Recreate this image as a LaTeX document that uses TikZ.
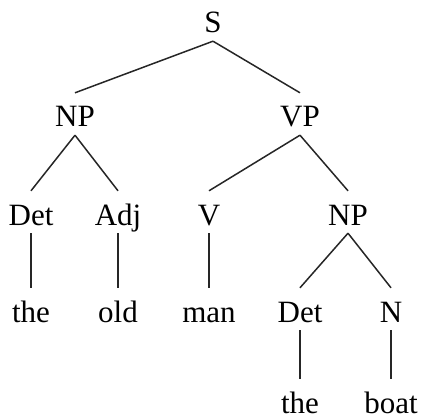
\documentclass[tikz,border=0pt]{standalone}
\usepackage{fontspec}
\setmainfont{Liberation Serif}
\begin{document}
\begin{tikzpicture}[x=1pt,y=-1pt,
	cat/.style={anchor=base,inner sep=0pt,text height=34pt,text depth=8pt,font=\fontsize{31}{36}\selectfont},
	leaf/.style={cat,text depth=0pt},
	branch/.style={line width=1.5pt,color=black!85}]
	\useasboundingbox (0,0) rectangle (421,420);
	\node[cat] (s) at (213,33) {S};
	\node[cat] (np) at (75,127) {NP};
	\node[cat] (vp) at (300,127) {VP};
	\node[cat] (det) at (31,225) {Det};
	\node[cat] (adj) at (118,225) {Adj};
	\node[cat] (v) at (209,225) {V};
	\node[cat] (npb) at (348,225) {NP};
	\node[cat] (the) at (31,322) {the};
	\node[cat] (old) at (118,322) {old};
	\node[cat] (man) at (209,322) {man};
	\node[cat] (detb) at (300,322) {Det};
	\node[cat] (n) at (391,322) {N};
	\node[leaf] (theb) at (300,413) {the};
	\node[leaf] (boat) at (391,413) {boat};
	\draw[branch] (s.south) -- (np.north);
	\draw[branch] (s.south) -- (vp.north);
	\draw[branch] (np.south) -- (det.north);
	\draw[branch] (np.south) -- (adj.north);
	\draw[branch] (vp.south) -- (v.north);
	\draw[branch] (vp.south) -- (npb.north);
	\draw[branch] (det.south) -- (the.north);
	\draw[branch] (adj.south) -- (old.north);
	\draw[branch] (v.south) -- (man.north);
	\draw[branch] (npb.south) -- (detb.north);
	\draw[branch] (npb.south) -- (n.north);
	\draw[branch] (detb.south) -- (theb.north);
	\draw[branch] (n.south) -- (boat.north);
\end{tikzpicture}
\end{document}
